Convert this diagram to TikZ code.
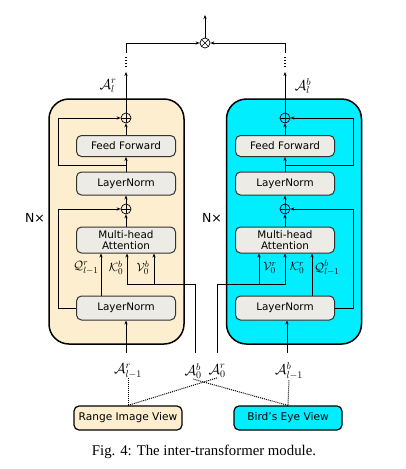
\documentclass[tikz,border=0pt]{standalone}
\usepackage{xcolor}
\usepackage{fontspec}
\newfontfamily\boxfont{DejaVu Sans}
\newfontfamily\capfont{Liberation Serif}
\usepackage{tikz}
\usetikzlibrary{positioning,arrows.meta}

\definecolor{rangebg}{RGB}{252,238,206}
\definecolor{bevbg}{RGB}{0,238,255}
\definecolor{layerbg}{RGB}{236,235,230}

\tikzset{
  block/.style={draw, line width=1.5pt, rounded corners=20pt, minimum width=135pt, minimum height=245pt},
  layer/.style={draw=black!80, fill=layerbg, line width=1pt, rounded corners=5pt, minimum width=99pt,
    minimum height=22pt, inner sep=1pt, align=center, font=\boxfont\fontsize{10.4}{11.5}\selectfont},
  view/.style={draw, line width=1.2pt, rounded corners=5pt, minimum width=108pt, minimum height=24pt,
    font=\boxfont\fontsize{10.6}{12}\selectfont},
  addnode/.style={circle, draw, line width=0.7pt, minimum size=10pt, inner sep=0pt,
    path picture={\draw[line width=0.7pt] (path picture bounding box.north) -- (path picture bounding box.south)
      (path picture bounding box.west) -- (path picture bounding box.east);}},
  mulnode/.style={circle, draw, line width=0.7pt, minimum size=10pt, inner sep=0pt,
    path picture={\draw[line width=0.7pt] (path picture bounding box.north west) -- (path picture bounding box.south east)
      (path picture bounding box.south west) -- (path picture bounding box.north east);}},
  flow/.style={-{Stealth[length=4pt, width=3.2pt]}, line width=0.8pt},
  feed/.style={densely dotted, line width=1pt},
  gap/.style={dash pattern=on 1.5pt off 1.5pt, line width=1.6pt},
  sym/.style={inner sep=0pt, font=\fontsize{14.5}{14.5}\selectfont},
  qkv/.style={inner sep=0pt, font=\fontsize{12.5}{12.5}\selectfont}
}

\begin{document}
\begin{tikzpicture}[x=1pt, y=-1pt]
\useasboundingbox (0,0) rectangle (405,469);

\node[block, fill=rangebg] (block_r) at (116.5,221.5) {};
\node[block, fill=bevbg] (block_b) at (294,221.5) {};

% range branch
\node[layer, minimum height=24pt] (norm_r1) at (126,308) {LayerNorm};
\node[layer, minimum height=26pt] (attn_r) at (126,240) {Multi-head\\Attention};
\node[addnode] (add_r1) at (126,209) {};
\node[layer, minimum height=23pt] (norm_r2) at (126,183.5) {LayerNorm};
\node[layer, minimum height=21pt] (ffn_r) at (126,146) {Feed Forward};
\node[addnode] (add_r2) at (126,118) {};

% bev branch
\node[layer, minimum height=24pt] (norm_b1) at (285,308) {LayerNorm};
\node[layer, minimum height=26pt] (attn_b) at (285,240) {Multi-head\\Attention};
\node[addnode] (add_b1) at (285,209) {};
\node[layer, minimum height=23pt] (norm_b2) at (285,183.5) {LayerNorm};
\node[layer, minimum height=21pt] (ffn_b) at (285,146) {Feed Forward};
\node[addnode] (add_b2) at (285,118) {};

\node[mulnode] (fuse) at (205,43) {};
\coordinate (result) at (205,15);

\node[font=\boxfont\fontsize{12.5}{12.5}\selectfont] (rep_r) at (35,218) {N×};
\node[font=\boxfont\fontsize{12.5}{12.5}\selectfont] (rep_b) at (212,218) {N×};

\node[qkv] (q_r) at (86,268) {$\mathcal{Q}^r_{l-1}$};
\node[qkv] (k_r) at (116,268) {$\mathcal{K}^b_0$};
\node[qkv] (v_r) at (143,268) {$\mathcal{V}^b_0$};
\node[qkv] (v_b) at (270,268) {$\mathcal{V}^r_0$};
\node[qkv] (k_b) at (297,268) {$\mathcal{K}^r_0$};
\node[qkv] (q_b) at (327,268) {$\mathcal{Q}^b_{l-1}$};

\node[sym] (last_r) at (108,86) {$\mathcal{A}^r_l$};
\node[sym] (last_b) at (303,86) {$\mathcal{A}^b_l$};
\node[sym] (prev_r) at (128,371) {$\mathcal{A}^r_{l-1}$};
\node[sym] (prev_b) at (289,371) {$\mathcal{A}^b_{l-1}$};
\node[sym] (init_b) at (193,371) {$\mathcal{A}^b_0$};
\node[sym] (init_r) at (217,371) {$\mathcal{A}^r_0$};

\node[view, fill=rangebg] (view_r) at (128,418) {Range Image View};
\node[view, fill=bevbg] (view_b) at (288,418) {Bird’s Eye View};

\node[font=\capfont\fontsize{14.8}{16}\selectfont] (caption) at (204,452) {Fig. 4: The inter-transformer module.};

\coordinate (in_r) at (126,353);
\coordinate (in_b) at (287,353);
\coordinate (bus_r) at (195,353);
\coordinate (bus_b) at (217,353);
\coordinate (busrow) at (0,284);
\coordinate (skip_r) at (58,0);
\coordinate (skip_b) at (353,0);
\coordinate (tap_r) at (126,165);
\coordinate (tap_b) at (285,165);
\coordinate (out_r) at (126,72);
\coordinate (out_b) at (285,72);
\coordinate (dots_r) at (126,56);
\coordinate (dots_b) at (285,56);
\coordinate (top_r) at (126,53);
\coordinate (top_b) at (285,53);

% range arrows
\draw[flow] (in_r) -- (norm_r1.south);
\draw[flow] ([xshift=-25pt]norm_r1.north) -- ([xshift=-25pt]attn_r.south);
\draw[flow] (bus_r) |- ([xshift=1pt]attn_r.south |- busrow) -- ([xshift=1pt]attn_r.south);
\draw[flow] ([xshift=28pt]attn_r.south |- busrow) -- ([xshift=28pt]attn_r.south);
\draw[flow] (attn_r) -- (add_r1);
\draw[flow] (add_r1) -- (norm_r2);
\draw[flow] (norm_r2) -- (ffn_r);
\draw[flow] (ffn_r) -- (add_r2);
\draw[flow] (norm_r1.west) -| (skip_r |- add_r1) -- (add_r1.west);
\draw[flow] (tap_r) -| (skip_r |- add_r2) -- (add_r2.west);
\draw[flow] (add_r2) -- (out_r);
\draw[gap] ([yshift=5pt]out_r) -- (dots_r);
\draw[flow] (top_r) |- (fuse.west);

% bev arrows
\draw[flow] (in_b) -- (in_b |- norm_b1.south);
\draw[flow] ([xshift=27pt]norm_b1.north) -- ([xshift=27pt]attn_b.south);
\draw[flow] (bus_b) |- (attn_b.south |- busrow) -- (attn_b.south);
\draw[flow] ([xshift=-26pt]attn_b.south |- busrow) -- ([xshift=-26pt]attn_b.south);
\draw[flow] (attn_b) -- (add_b1);
\draw[flow] (add_b1) -- (norm_b2);
\draw[flow] (norm_b2) -- (ffn_b);
\draw[flow] (ffn_b) -- (add_b2);
\draw[flow] (norm_b1.east) -| (skip_b |- add_b1) -- (add_b1.east);
\draw[flow] (tap_b) -| (skip_b |- add_b2) -- (add_b2.east);
\draw[flow] (add_b2) -- (out_b);
\draw[gap] ([yshift=5pt]out_b) -- (dots_b);
\draw[flow] (top_b) |- (fuse.east);

\draw[flow] (fuse) -- (result);

% views
\draw[feed] (view_r.north) -- (prev_r.south);
\draw[feed] (view_r.north) -- (init_r.south);
\draw[feed] (view_b.north) -- (prev_b.south);
\draw[feed] (view_b.north) -- (init_b.south);

\end{tikzpicture}
\end{document}
